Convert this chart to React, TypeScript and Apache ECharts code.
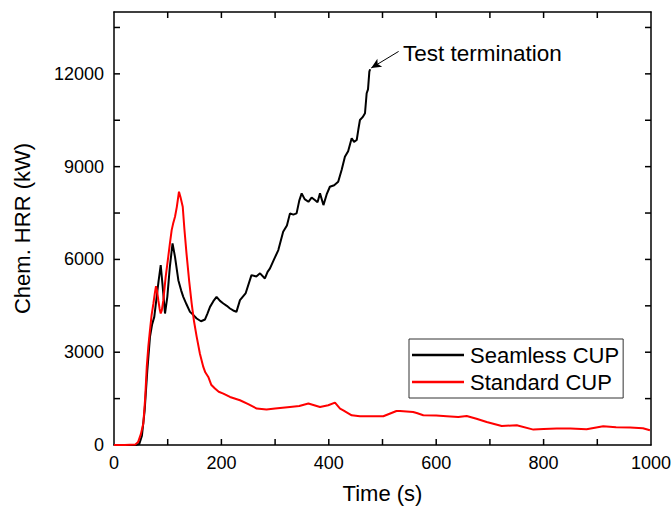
import React, { useEffect, useRef } from "react";
import * as echarts from "echarts";

const seamlessTime = [0,20,40,47,52,57,62,67,71,75,79.5,83,87,90.7,95,99.3,104,109,113.6,119.8,125,129,135,141.5,148,154,162,169.5,174,178.8,185,191,197.4,203.6,210,216,222,228,234.6,245,256,265,272,281,286,290.5,298,306,315,322,327.7,334,340,345,349.5,355,362,368,374,379,383.6,390,396,402,410,417.5,424,430,436,442.6,447,452,455,458,463,467.4,470.5,473,475.5,477];
const seamlessHRR = [0,0,0,30,300,1100,2400,3495,3900,4142,4790,5300,5816,5113,4252,4790,5760,6518,6084,5330,5000,4790,4550,4304,4200,4090,4000,4058,4250,4466,4650,4790,4660,4576,4500,4414,4350,4304,4683,4900,5492,5450,5550,5385,5600,5709,6000,6301,6893,7100,7489,7450,7489,7900,8136,7950,7864,8000,7919,7850,8136,7757,8100,8350,8400,8511,8900,9320,9500,9916,9800,9861,10200,10508,10600,10725,11372,11500,12071,12149];

const standardTime = [0,20,40,45,50,54.6,58,61,64,67,70,73.4,76,78.2,80,82.5,85,87,89,91.9,96,101,104,107.4,110,113.6,117,121,124,128,131,135,140,144.6,149,154,160,166.3,170,175.6,181,188,195,203.6,216,234.6,250,265.7,284,300,327.7,345,362,383.6,399,411.5,421,427,442.6,458,480,501.5,526,532.6,557,563.7,576,600,619.5,641,656.8,675,694,722,750,781,800,824.4,850,880,911,935,961,985,998];
const standardHRR = [0,0,20,100,350,692,1500,2524,3200,3712,4200,4576,4900,5136,5000,4683,4400,4252,4350,4683,5400,6084,6500,6948,7150,7379,7700,8188,8000,7702,7000,6194,5300,4576,4000,3495,2950,2524,2350,2200,1950,1825,1720,1663,1553,1447,1320,1178,1145,1180,1230,1260,1340,1230,1285,1372,1178,1123,961,929,930,929,1100,1100,1068,1036,961,950,929,906,939,850,745,615,638,498,520,531,530,508,605,570,563,540,476];

const xTickValues = [100, 200, 300, 400, 500, 600, 700, 800, 900];
const yTickValues = [1500, 3000, 4500, 6000, 7500, 9000, 10500, 12000, 13500];

const seriesNames = ["Seamless CUP", "Standard CUP"];
const annotationText = "Test termination";
const arrowTail = [530, 12725];
const arrowHead = [479, 12190];

const X_MIN = 0, X_MAX = 1000, Y_MIN = 0, Y_MAX = 14000;
const FONT = 'Arial, "Liberation Sans", sans-serif';
const TICK_LEN = 6;

export default function App() {
  const ref = useRef<HTMLDivElement>(null);
  useEffect(() => {
    if (!ref.current) return;
    const chart = echarts.init(ref.current, undefined, { renderer: "svg" });
    const axisLine = () => ({ show: true, onZero: false, lineStyle: { color: "#000", width: 1.5 } });
    const textGraphic = {
      type: "text", left: 403, top: 42,
      style: { text: annotationText, fontSize: 22.5, fill: "#000", fontFamily: FONT },
    };
    chart.setOption({
      animation: false,
      grid: { left: 114, top: 12, right: 20, bottom: 61, containLabel: false, outerBoundsMode: "none" },
      textStyle: { fontFamily: FONT },
      legend: {
        orient: "vertical",
        left: 409,
        top: 339,
        data: seriesNames.map((n) => ({ name: n, icon: "rect" })),
        borderColor: "#333",
        borderWidth: 1,
        borderRadius: 0,
        padding: [5, 4, 5, 3],
        itemWidth: 52,
        itemHeight: 2.5,
        itemGap: 5,
        textStyle: { fontSize: 22, color: "#000", fontFamily: FONT, padding: [0, 0, 0, 1] },
      },
      xAxis: [
        {
          type: "value", min: X_MIN, max: X_MAX, interval: 200,
          name: "Time (s)", nameLocation: "middle", nameGap: 37,
          nameTextStyle: { fontSize: 22, color: "#000", fontFamily: FONT },
          axisLine: axisLine(), axisTick: { show: false },
          axisLabel: { fontSize: 18, color: "#000", margin: 9, fontFamily: FONT, formatter: (v: number) => String(v) },
          splitLine: { show: false },
        },
        {
          type: "value", min: X_MIN, max: X_MAX, interval: 200, position: "top",
          axisLine: axisLine(), axisTick: { show: false },
          axisLabel: { show: false }, splitLine: { show: false },
        },
      ],
      yAxis: [
        {
          type: "value", min: Y_MIN, max: Y_MAX, interval: 3000,
          name: "Chem. HRR (kW)", nameLocation: "middle", nameGap: 81,
          nameTextStyle: { fontSize: 22, color: "#000", fontFamily: FONT },
          axisLine: axisLine(), axisTick: { show: false },
          axisLabel: {
            fontSize: 18, color: "#000", margin: 10, fontFamily: FONT, showMaxLabel: false,
            formatter: (v: number) => (v % 3000 === 0 ? String(v) : ""),
          },
          splitLine: { show: false },
        },
        {
          type: "value", min: Y_MIN, max: Y_MAX, interval: 3000, position: "right",
          axisLine: axisLine(), axisTick: { show: false },
          axisLabel: { show: false }, splitLine: { show: false },
        },
      ],
      series: [
        {
          name: seriesNames[0], type: "line", showSymbol: false, symbol: "none",
          data: seamlessTime.map((t, i) => [t, seamlessHRR[i]]),
          lineStyle: { color: "#000", width: 2 }, itemStyle: { color: "#000" },
          markLine: {
            silent: true, symbol: ["none", "arrow"], symbolSize: [7, 10],
            label: { show: false },
            lineStyle: { color: "#000", width: 1, type: "solid" },
            data: [[{ coord: arrowTail }, { coord: arrowHead }]],
          },
        },
        {
          name: seriesNames[1], type: "line", showSymbol: false, symbol: "none",
          data: standardTime.map((t, i) => [t, standardHRR[i]]),
          lineStyle: { color: "#ff0000", width: 2 }, itemStyle: { color: "#ff0000" },
        },
      ],
      graphic: [textGraphic],
    });

    // Tick marks placed through the chart's own scales.
    const toPx = (p: number[]) => chart.convertToPixel({ gridIndex: 0 }, p) as number[];
    const tickStyle = { stroke: "#000", lineWidth: 1.5 };
    const ticks: any[] = [];
    xTickValues.forEach((v) => {
      const b = toPx([v, Y_MIN]);
      const t = toPx([v, Y_MAX]);
      ticks.push({ type: "line", silent: true, z: 100, shape: { x1: b[0], y1: b[1], x2: b[0], y2: b[1] - TICK_LEN }, style: tickStyle });
      ticks.push({ type: "line", silent: true, z: 100, shape: { x1: t[0], y1: t[1], x2: t[0], y2: t[1] + TICK_LEN }, style: tickStyle });
    });
    yTickValues.forEach((v) => {
      const l = toPx([X_MIN, v]);
      const r = toPx([X_MAX, v]);
      ticks.push({ type: "line", silent: true, z: 100, shape: { x1: l[0], y1: l[1], x2: l[0] + TICK_LEN, y2: l[1] }, style: tickStyle });
      ticks.push({ type: "line", silent: true, z: 100, shape: { x1: r[0], y1: r[1], x2: r[0] - TICK_LEN, y2: r[1] }, style: tickStyle });
    });
    chart.setOption({ graphic: [textGraphic, ...ticks] }, { replaceMerge: ["graphic"] });

    return () => chart.dispose();
  }, []);
  return <div ref={ref} style={{ width: 671, height: 506, position: "absolute", left: 0, top: 0 }} />;
}
